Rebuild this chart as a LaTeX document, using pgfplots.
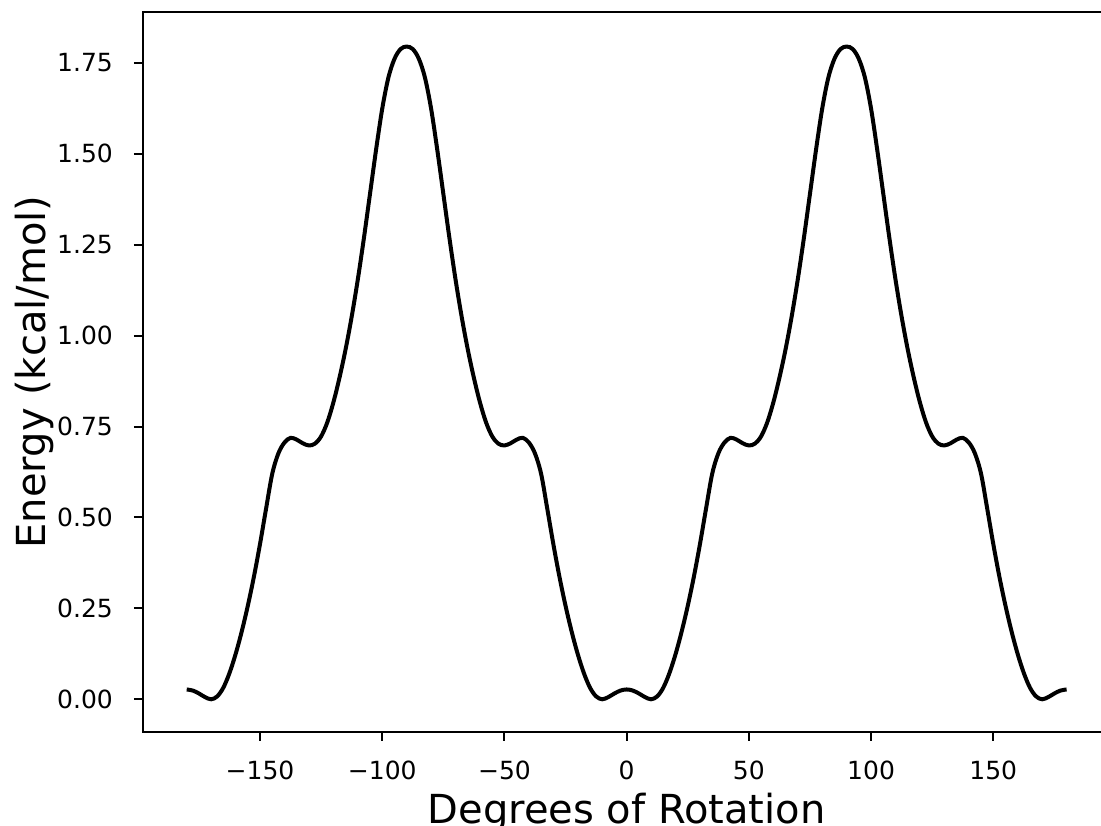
\documentclass[border=0pt]{standalone}
\usepackage{fontspec}
\setmainfont{DejaVu Sans}
\usepackage{pgfplots}
\pgfplotsset{compat=1.18}
\begin{document}
\begin{tikzpicture}
\begin{axis}[
  at={(0,0)}, anchor=south west,
  scale only axis, width=483.95pt, height=360pt,
  xmin=-198, xmax=198, ymin=-0.09, ymax=1.89,
  axis line style={line width=1pt},
  tick align=outside, major tick length=4.375pt,
  every tick/.style={black, line width=1pt},
  tick pos=left,
  xtick={-150,-100,-50,0,50,100,150},
  xticklabels={−150,−100,−50,0,50,100,150},
  ytick={0,0.25,0.5,0.75,1,1.25,1.5,1.75},
  yticklabels={0.00,0.25,0.50,0.75,1.00,1.25,1.50,1.75},
  ticklabel style={font=\fontsize{12.5}{15}\selectfont},
  xticklabel style={anchor=base, yshift=-19.5pt},
  yticklabel style={anchor=east, inner sep=0pt, xshift=-10.35pt},
  label style={font=\fontsize{20}{24}\selectfont},
  xlabel={Degrees of Rotation},
  ylabel={Energy (kcal/mol)},
  xlabel style={at={(axis description cs:0.5,-0.1274)}, anchor=base},
  ylabel style={at={(axis description cs:-0.10094,0.5)}, anchor=base},
]
\addplot[black, line width=2pt, smooth, tension=0.55] coordinates {
(-180,0.027) (-177.5,0.024) (-175,0.016) (-172.5,0.006) (-170,0.000) (-167.5,0.008)
(-165,0.032) (-162.5,0.072) (-160,0.124) (-157.5,0.186) (-155,0.257) (-152.5,0.337)
(-150,0.427) (-147.5,0.525) (-145,0.620) (-142.5,0.676) (-140,0.706) (-137.5,0.719)
(-135,0.714) (-132.5,0.704) (-130,0.698) (-127.5,0.703) (-125,0.723) (-122.5,0.761)
(-120,0.816) (-117.5,0.884) (-115,0.962) (-112.5,1.052) (-110,1.154) (-107.5,1.268)
(-105,1.390) (-102.5,1.512) (-100,1.624) (-97.5,1.709) (-95,1.761) (-92.5,1.788)
(-90,1.795)
(-87.5,1.788) (-85,1.761) (-82.5,1.709) (-80,1.624) (-77.5,1.512) (-75,1.390)
(-72.5,1.268) (-70,1.154) (-67.5,1.052) (-65,0.962) (-62.5,0.884) (-60,0.816)
(-57.5,0.761) (-55,0.723) (-52.5,0.703) (-50,0.698) (-47.5,0.704) (-45,0.714)
(-42.5,0.719) (-40,0.706) (-37.5,0.676) (-35,0.620) (-32.5,0.525) (-30,0.427)
(-27.5,0.337) (-25,0.257) (-22.5,0.186) (-20,0.124) (-17.5,0.072) (-15,0.032)
(-12.5,0.008) (-10,0.000) (-7.5,0.006) (-5,0.016) (-2.5,0.024)
(0,0.027)
(2.5,0.024) (5,0.016) (7.5,0.006) (10,0.000) (12.5,0.008)
(15,0.032) (17.5,0.072) (20,0.124) (22.5,0.186) (25,0.257) (27.5,0.337)
(30,0.427) (32.5,0.525) (35,0.620) (37.5,0.676) (40,0.706) (42.5,0.719)
(45,0.714) (47.5,0.704) (50,0.698) (52.5,0.703) (55,0.723) (57.5,0.761)
(60,0.816) (62.5,0.884) (65,0.962) (67.5,1.052) (70,1.154) (72.5,1.268)
(75,1.390) (77.5,1.512) (80,1.624) (82.5,1.709) (85,1.761) (87.5,1.788)
(90,1.795)
(92.5,1.788) (95,1.761) (97.5,1.709) (100,1.624) (102.5,1.512) (105,1.390)
(107.5,1.268) (110,1.154) (112.5,1.052) (115,0.962) (117.5,0.884) (120,0.816)
(122.5,0.761) (125,0.723) (127.5,0.703) (130,0.698) (132.5,0.704) (135,0.714)
(137.5,0.719) (140,0.706) (142.5,0.676) (145,0.620) (147.5,0.525) (150,0.427)
(152.5,0.337) (155,0.257) (157.5,0.186) (160,0.124) (162.5,0.072) (165,0.032)
(167.5,0.008) (170,0.000) (172.5,0.006) (175,0.016) (177.5,0.024)
(180,0.027)
};
\end{axis}
\pgfresetboundingbox
\useasboundingbox (-71.35pt,-46.5pt) rectangle (479.15pt,366pt);
\end{tikzpicture}
\end{document}
